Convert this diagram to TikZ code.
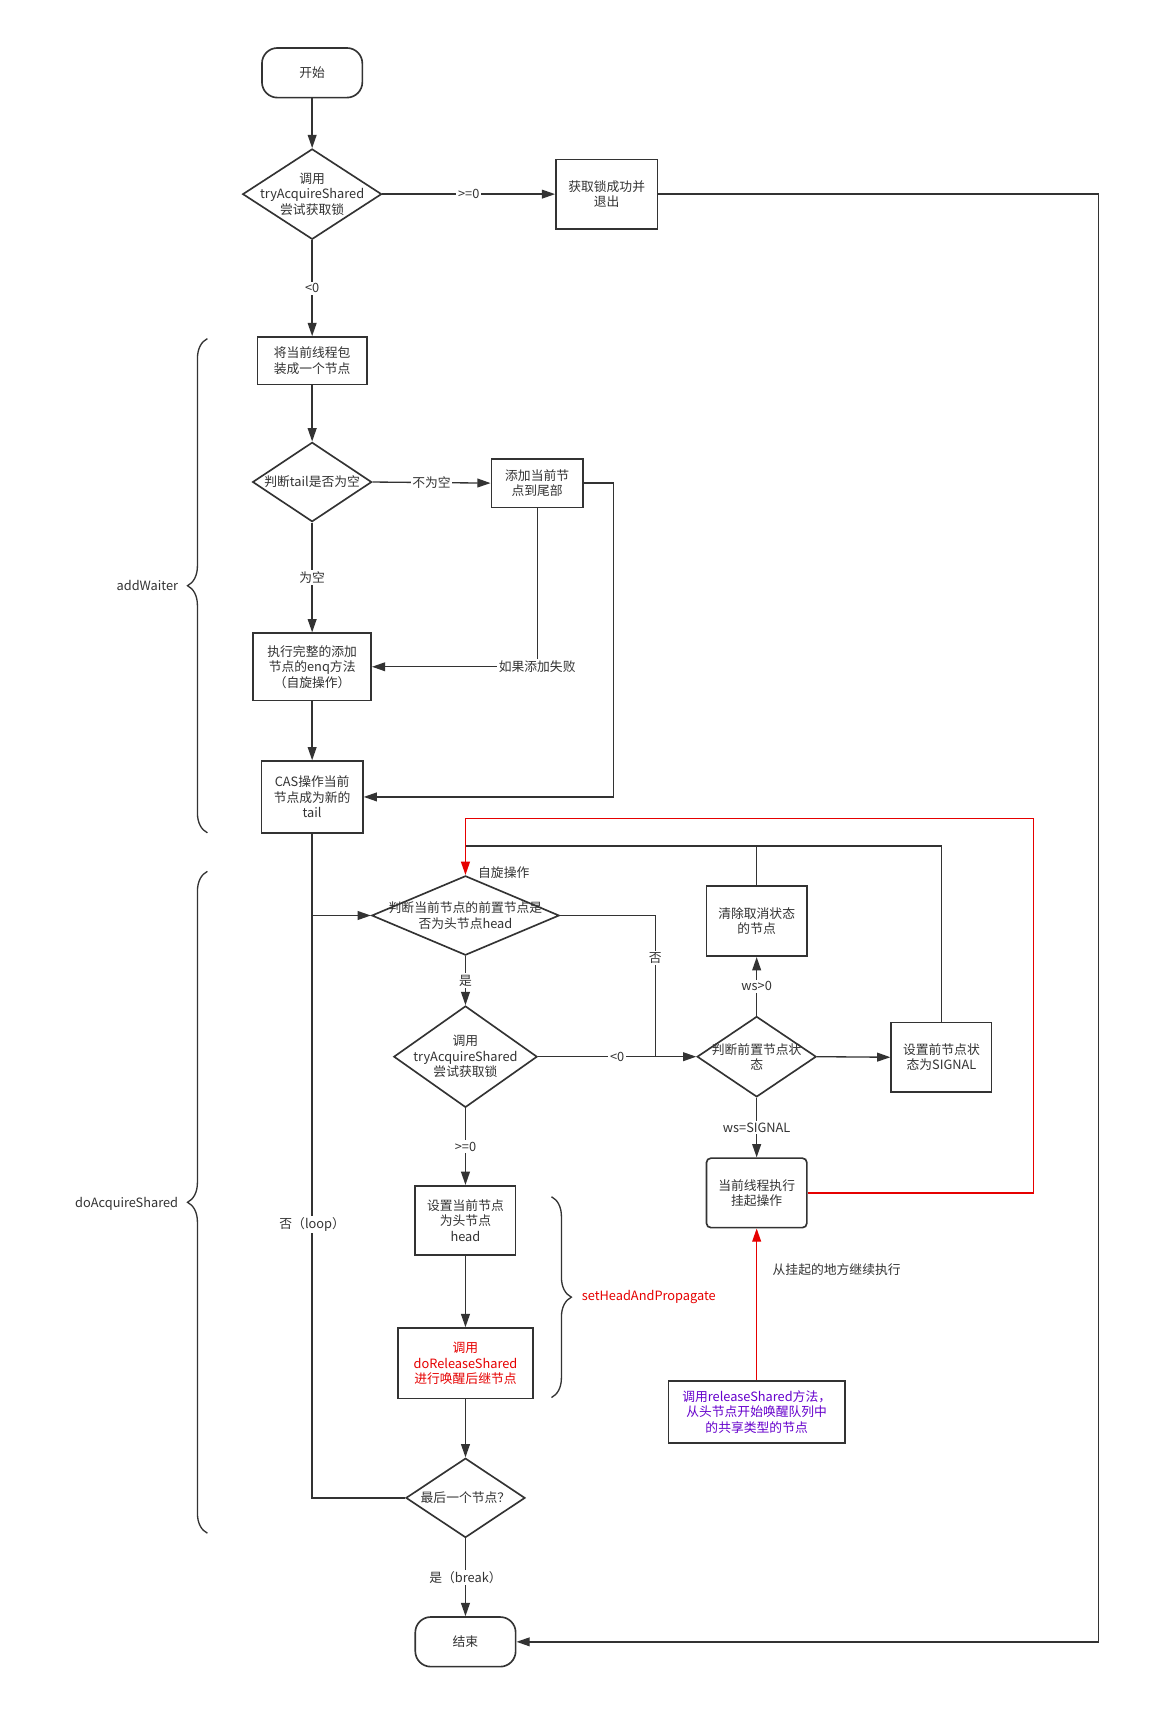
\documentclass[tikz,border=0pt]{standalone}
\usepackage{fontspec}
\setmainfont{Noto Sans CJK SC}
\usetikzlibrary{arrows.meta,shapes.geometric,decorations.pathreplacing,calc}
\definecolor{ln}{RGB}{51,51,51}
\definecolor{rd}{RGB}{230,0,0}
\definecolor{pp}{RGB}{102,0,204}
\begin{document}
\begin{tikzpicture}[x=1pt,y=-1pt,
  every node/.style={font=\fontsize{11.6}{14}\selectfont, text=ln, align=center},
  box/.style={draw=ln, line width=1.5pt, rectangle, inner sep=0pt},
  term/.style={box, rounded corners=14pt},
  dia/.style={draw=ln, line width=1.5pt, diamond, inner sep=0pt},
  con/.style={draw=ln, line width=1.2pt},
  arr/.style={con, -{Triangle[length=12pt,width=8pt]}},
  rarr/.style={draw=rd, line width=1.3pt, -{Triangle[length=12pt,width=8pt]}},
  lbl/.style={fill=white, inner sep=1.5pt},
  brc/.style={draw=ln, line width=1.2pt, decorate, decoration={brace, amplitude=18pt}}
]
\useasboundingbox[fill=white] (0,0) rectangle (1050,1563);

% nodes
\node[term, minimum width=91pt, minimum height=45pt] (start) at (283,66) {开始};
\node[dia, minimum width=126pt, minimum height=82pt] (d1) at (283,176) {};
\node at (d1) {调用\\tryAcquireShared\\尝试获取锁};
\node[box, minimum width=92pt, minimum height=63pt] (ok) at (550,176) {获取锁成功并\\退出};
\node[box, minimum width=99pt, minimum height=43pt] (b1) at (283,327) {将当前线程包\\装成一个节点};
\node[dia, minimum width=108pt, minimum height=72pt] (d2) at (283,437) {};
\node at (d2) {判断tail是否为空};
\node[box, minimum width=83pt, minimum height=44pt] (add) at (487,438) {添加当前节\\点到尾部};
\node[box, minimum width=107pt, minimum height=61pt] (enq) at (283,604.5) {执行完整的添加\\节点的enq方法\\（自旋操作）};
\node[box, minimum width=92pt, minimum height=65pt] (cas) at (283,722.5) {CAS操作当前\\节点成为新的\\tail};

\node[dia, minimum width=170pt, minimum height=72pt] (d3) at (422,830) {};
\node at (d3) {判断当前节点的前置节点是\\否为头节点head};
\node[dia, minimum width=130pt, minimum height=92pt] (d4) at (422,958) {};
\node at (d4) {调用\\tryAcquireShared\\尝试获取锁};
\node[dia, minimum width=108pt, minimum height=73pt] (d5) at (686,958) {};
\node at (d5) {判断前置节点状\\态};
\node[box, minimum width=91pt, minimum height=64pt] (clr) at (686,835) {清除取消状态\\的节点};
\node[box, minimum width=91pt, minimum height=63pt] (sig) at (853.5,958.5) {设置前节点状\\态为SIGNAL};
\node[box, rounded corners=4pt, minimum width=91pt, minimum height=63pt] (sus) at (686,1081.5) {当前线程执行\\挂起操作};
\node[box, minimum width=160pt, minimum height=56pt, text=pp] (rel) at (686,1280) {调用releaseShared方法，\\从头节点开始唤醒队列中\\的共享类型的节点};
\node[box, minimum width=91pt, minimum height=63pt] (sh) at (422,1106.5) {设置当前节点\\为头节点\\head};
\node[box, minimum width=122pt, minimum height=64pt, text=rd] (drs) at (422,1236) {调用\\doReleaseShared\\进行唤醒后继节点};
\node[dia, minimum width=108pt, minimum height=72pt] (d6) at (422,1358) {};
\node at (d6) {最后一个节点？};
\node[term, minimum width=91pt, minimum height=45pt] (end) at (422,1488.5) {结束};

% free texts
\node[anchor=west] (spin) at (430,791) {自旋操作};
\node[anchor=west] (cont) at (697,1151) {从挂起的地方继续执行};
\node[anchor=east] (aw) at (165,531) {addWaiter};
\node[anchor=east] (das) at (165,1091) {doAcquireShared};
\node[anchor=west, text=rd] (shp) at (524,1176) {setHeadAndPropagate};

% junction coordinates
\coordinate (rr) at (996,1488.5);
\coordinate (ra) at (556,722.5);
\coordinate (jl) at (283,830);
\coordinate (j2) at (594,958);
\coordinate (jt) at (422,767);
\coordinate (jc) at (686,767);
\coordinate (rc) at (937,742);

% connectors
\draw[arr] (start.south) -- (d1.north);
\draw[arr] (d1.east) -- node[lbl]{>=0} (ok.west);
\draw[arr] (ok.east) -| (rr) -- (end.east);
\draw[arr] (d1.south) -- node[lbl]{<0} (b1.north);
\draw[arr] (b1.south) -- (d2.north);
\draw[arr] (d2.east) -- node[lbl]{不为空} (add.west);
\draw[arr] (d2.south) -- node[lbl]{为空} (enq.north);
\draw[arr] (add.south) |- node[lbl,pos=0.5]{如果添加失败} (enq.east);
\draw[arr] (add.east) -| (ra) -- (cas.east);
\draw[arr] (enq.south) -- (cas.north);
\draw[arr] (cas.south) |- (d3.west);
\draw[con] (d6.west) -| node[lbl,pos=0.735]{否（loop）} (jl);
\draw[arr] (d3.south) -- node[lbl]{是} (d4.north);
\draw[con] (d3.east) -| node[lbl,pos=0.65]{否} (j2);
\draw[arr] (d4.east) -- node[lbl]{<0} (d5.west);
\draw[arr] (d5.north) -- node[lbl]{ws>0} (clr.south);
\draw[arr] (d5.east) -- (sig.west);
\draw[arr] (d5.south) -- node[lbl]{ws=SIGNAL} (sus.north);
\draw[arr] (d4.south) -- node[lbl]{>=0} (sh.north);
\draw[arr] (sh.south) -- (drs.north);
\draw[arr] (drs.south) -- (d6.north);
\draw[arr] (d6.south) -- node[lbl]{是（break）} (end.north);
\draw[con] (sig.north) |- (jt);
\draw[con] (clr.north) -- (jc);
\draw[rarr] (sus.east) -| (rc) -| (d3.north);
\draw[rarr] (rel.north) -- (sus.south);

% braces
\draw[brc] (188,755) -- (188,307);
\draw[brc] (188,1390) -- (188,790);
\draw[brc] (500,1085) -- (500,1267);
\end{tikzpicture}
\end{document}
